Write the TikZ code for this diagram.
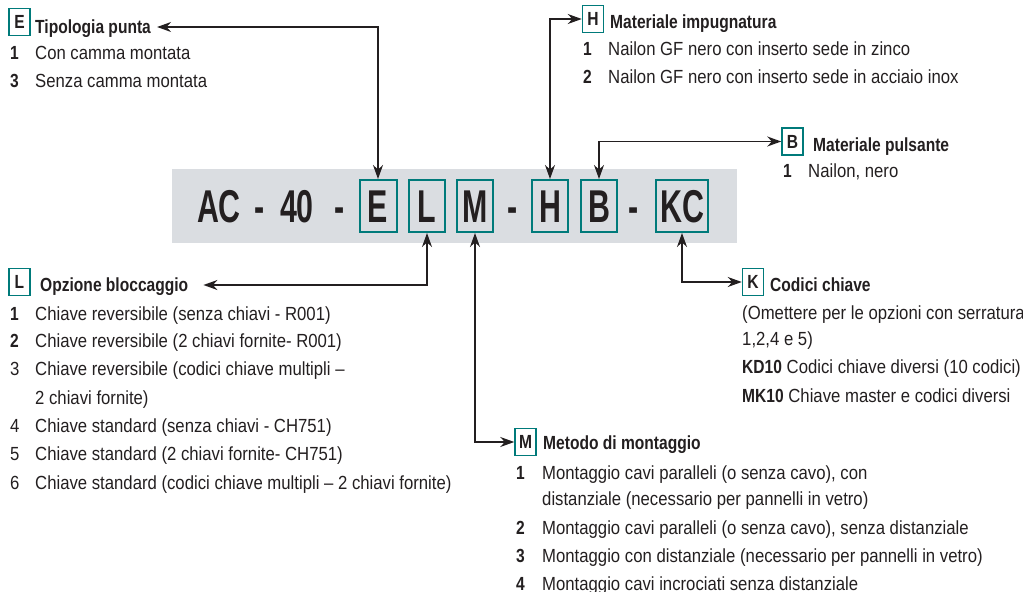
\documentclass[tikz,border=0pt]{standalone}
\usepackage{fontspec}
\setmainfont{Liberation Sans}[FakeStretch=0.88,BoldFeatures={FakeStretch=0.82}]
\newfontfamily\codefont{Liberation Sans}[FakeStretch=0.66]
\usetikzlibrary{arrows.meta}

\definecolor{tealbox}{RGB}{0,122,122}
\definecolor{ink}{RGB}{35,31,32}
\definecolor{barGrey}{RGB}{218,221,225}
\newcommand{\bodysize}{\fontsize{19bp}{23bp}\selectfont}
\newcommand{\codesize}{\fontsize{46bp}{50bp}\selectfont}

\tikzset{
    codetxt/.style={inner sep=0, text height=33bp, text depth=0pt, text=ink, font=\codefont\codesize\bfseries},
    codebox/.style={codetxt, draw=tealbox, line width=2bp, minimum height=52bp},
    keybox/.style={draw=tealbox, line width=1.5bp, minimum width=21bp, minimum height=27bp, inner sep=0, text=ink, font=\bodysize\bfseries},
    head/.style={anchor=west, inner sep=0, text height=14bp, text depth=0pt, text=ink, font=\bodysize\bfseries},
    item/.style={anchor=west, inner sep=0, text height=14bp, text depth=0pt, text=ink, font=\bodysize},
    link/.style={line width=1.5bp, draw=ink, {Stealth[length=14bp,width=10bp]}-{Stealth[length=14bp,width=10bp]}}
}

\begin{document}
\begin{tikzpicture}[x=1bp,y=-1bp]
    \useasboundingbox (0,0) rectangle (1023,592);

    % barra del codice
    \fill[barGrey] (172,169) rectangle (737,243);
    \node[codetxt] (cAC) at (219,206) {AC};
    \node[codetxt] (d1) at (259.5,206) {-};
    \node[codetxt] (c40) at (297,206) {40};
    \node[codetxt] (d2) at (339.5,206) {-};
    \node[codetxt] (d3) at (512.5,206) {-};
    \node[codetxt] (d4) at (634,206) {-};
    \foreach \n/\x/\w in {E/378/37, L/427/36, M/475/36, H/550/36, B/599/36, KC/682/52}
        \node[codebox, minimum width=\w bp] (b\n) at (\x,206) {\n};

    % E - tipologia punta
    \node[keybox] (kE) at (19.5,22) {E};
    \node[head] (tE) at (35,27) {Tipologia punta};
    \foreach \y/\n/\t in {53/1/{Con camma montata}, 81/3/{Senza camma montata}} {
        \node[item] (nE\n) at (10,\y) {\textbf{\n}};
        \node[item] (iE\n) at (35,\y) {\t};
    }
    \draw[link] (bE.north) |- ([xshift=6bp]tE.east);

    % H - materiale impugnatura
    \node[keybox] (kH) at (593,19) {H};
    \node[head] (tH) at (610,22) {Materiale impugnatura};
    \foreach \y/\n/\t in {49/1/{Nailon GF nero con inserto sede in zinco}, 77/2/{Nailon GF nero con inserto sede in acciaio inox}} {
        \node[item] (nH\n) at (583,\y) {\textbf{\n}};
        \node[item] (iH\n) at (608,\y) {\t};
    }
    \draw[link] (bH.north) |- (kH.west);

    % B - materiale pulsante
    \node[keybox] (kB) at (792.5,141.5) {B};
    \node[head] (tB) at (813,145) {Materiale pulsante};
    \node[item] (nB1) at (783,171) {\textbf{1}};
    \node[item] (iB1) at (808,171) {Nailon, nero};
    \draw[link] (bB.north) |- (kB.west);

    % L - opzione bloccaggio
    \node[keybox] (kL) at (19.5,282) {L};
    \node[head] (tL) at (40,285) {Opzione bloccaggio};
    \foreach \y/\n/\t in {313/\textbf{1}/{Chiave reversibile (senza chiavi - R001)},
                          340/\textbf{2}/{Chiave reversibile (2 chiavi fornite- R001)},
                          368/3/{Chiave reversibile (codici chiave multipli --},
                          397/{}/{2 chiavi fornite)},
                          425/4/{Chiave standard (senza chiavi - CH751)},
                          453/5/{Chiave standard (2 chiavi fornite- CH751)},
                          482/6/{Chiave standard (codici chiave multipli -- 2 chiavi fornite)}} {
        \node[item] (nL\y) at (10,\y) {\n};
        \node[item] (iL\y) at (35,\y) {\t};
    }
    \draw[link] (bL.south) |- ([xshift=15bp]tL.east);

    % M - metodo di montaggio
    \node[keybox] (kM) at (525.5,442) {M};
    \node[head] (tM) at (543,442) {Metodo di montaggio};
    \foreach \y/\n/\t in {472/1/{Montaggio cavi paralleli (o senza cavo), con},
                          498/{}/{distanziale (necessario per pannelli in vetro)},
                          527/2/{Montaggio cavi paralleli (o senza cavo), senza distanziale},
                          555/3/{Montaggio con distanziale (necessario per pannelli in vetro)},
                          583/4/{Montaggio cavi incrociati senza distanziale}} {
        \node[item] (nM\y) at (516,\y) {\textbf{\n}};
        \node[item] (iM\y) at (542,\y) {\t};
    }
    \draw[link] (bM.south) |- (kM.west);

    % K - codici chiave
    \node[keybox] (kK) at (753,282) {K};
    \node[head] (tK) at (770,285) {Codici chiave};
    \node[item] (iK1) at (742,312) {(Omettere per le opzioni con serratura};
    \node[item] (iK2) at (742,338) {1,2,4 e 5)};
    \node[item] (iK3) at (742,366) {\textbf{KD10} Codici chiave diversi (10 codici)};
    \node[item] (iK4) at (742,395) {\textbf{MK10} Chiave master e codici diversi};
    \draw[link] (bKC.south) |- (kK.west);
\end{tikzpicture}
\end{document}
